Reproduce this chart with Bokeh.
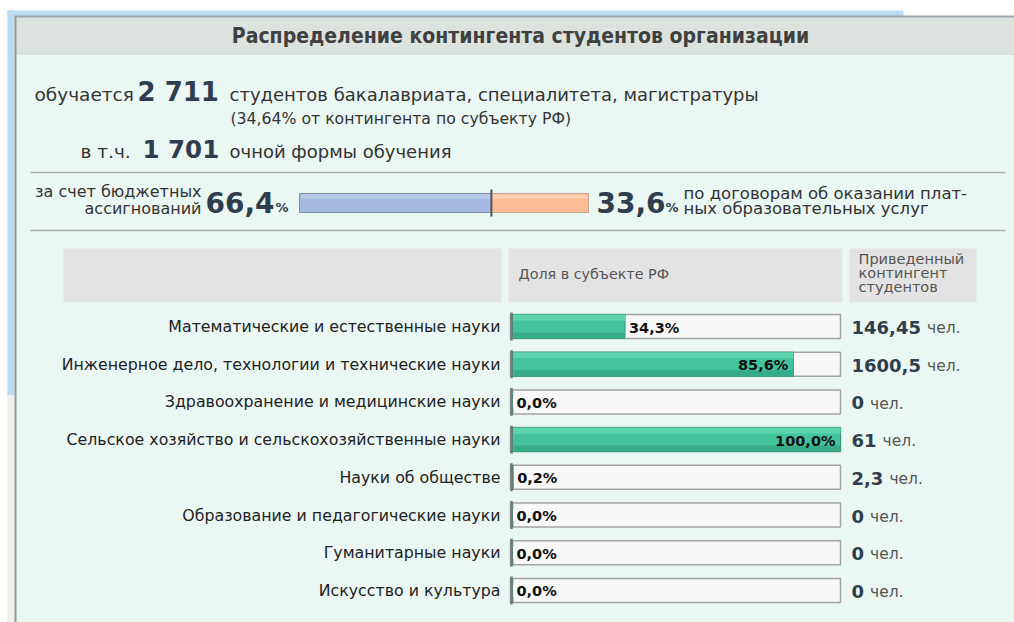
from bokeh.plotting import figure
from bokeh.models import Range1d, ColumnDataSource
from bokeh.embed import file_html
from bokeh.resources import INLINE
from bokeh.core.properties import value

# ---------------- data ----------------
title = "Распределение контингента студентов организации"
total_students = "2 711"
fulltime_students = "1 701"
region_share_note = "(34,64% от контингента по субъекту РФ)"
budget_share = 66.4
paid_share = 33.6

categories = [
    "Математические и естественные науки",
    "Инженерное дело, технологии и технические науки",
    "Здравоохранение и медицинские науки",
    "Сельское хозяйство и сельскохозяйственные науки",
    "Науки об обществе",
    "Образование и педагогические науки",
    "Гуманитарные науки",
    "Искусство и культура",
]
shares = [34.3, 85.6, 0.0, 100.0, 0.2, 0.0, 0.0, 0.0]
contingent = [146.45, 1600.5, 0, 61, 2.3, 0, 0, 0]

header_share = "Доля в субъекте РФ"
header_contingent = ["Приведенный", "контингент", "студентов"]

# ---------------- layout / style ----------------
W, H = 1014, 622
FONT = "DejaVu Sans"
TITLE_FONT = "DejaVu Sans Condensed"
DARK = "#2f3d4c"
TXT = "#333333"
GREY_TXT = "#555555"
XH = 0.2725  # half x-height of the font, in em

p = figure(width=W, height=H, x_range=Range1d(0, W), y_range=Range1d(H, 0),
           output_backend="svg", toolbar_location=None, min_border=0,
           x_axis_type=None, y_axis_type=None)
p.xgrid.visible = False
p.ygrid.visible = False
p.outline_line_color = None
p.background_fill_color = "white"
p.border_fill_color = "white"

# page decoration
p.quad(left=7, right=903, top=10, bottom=16, fill_color="#bcdcef", line_color=None)
p.quad(left=7, right=14, top=10, bottom=395, fill_color="#bcdcef", line_color=None)
p.quad(left=7, right=14, top=395, bottom=H, fill_color="#f2efe6", line_color=None)
# panel
p.quad(left=14, right=W, top=16, bottom=H, fill_color="#ebf7f3", line_color=None)
p.quad(left=14, right=W, top=16, bottom=53, fill_color="#dce3de", line_color=None)
p.segment(x0=14, y0=16, x1=W, y1=16, line_color="#9aa6ac", line_width=2)
p.segment(x0=14, y0=53.5, x1=W, y1=53.5, line_color="#c9d2cd", line_width=1)
p.segment(x0=15, y0=16, x1=15, y1=H, line_color="#8d9ba2", line_width=2)


def txt(x, base, s, size, color=TXT, bold=False, align="left", font=FONT):
    """place text so that its baseline sits at `base`"""
    p.text(x=[x], y=[base - XH * size], text=[s], text_font=value(font),
           text_font_style="bold" if bold else "normal", text_font_size=f"{size}px",
           text_color=color, text_align=align, text_baseline="middle")


txt(520, 41, title, 21, "#404040", bold=True, align="center", font=TITLE_FONT)

# summary lines
txt(34, 99, "обучается", 18.5, TXT)
txt(137, 99, total_students, 26, DARK, bold=True)
txt(229, 99, "студентов бакалавриата, специалитета, магистратуры", 18, TXT)
txt(230, 122, region_share_note, 15.7, TXT)
txt(80, 156, "в т.ч.", 18.5, TXT)
txt(142, 156, fulltime_students, 24.5, DARK, bold=True)
txt(229, 156, "очной формы обучения", 18, TXT)

p.segment(x0=30, y0=172, x1=1005, y1=172, line_color="#a9b1ad", line_width=1.5)
p.segment(x0=30, y0=230, x1=1005, y1=230, line_color="#a9b1ad", line_width=1.5)

# budget / paid split
fmt1 = lambda v: f"{v:.1f}".replace(".", ",")
txt(201, 195, "за счет бюджетных", 16, TXT, align="right")
txt(201, 212, "ассигнований", 16, TXT, align="right")
txt(205, 210, fmt1(budget_share), 28, DARK, bold=True)
txt(275, 211, "%", 13, DARK, bold=True)

bx0, bx1 = 299, 588
split = bx0 + (bx1 - bx0) * budget_share / (budget_share + paid_share)
p.quad(left=[bx0], right=[split], top=[193], bottom=[212], fill_color="#a5bae0", line_color="#7d8fa8")
p.quad(left=[split], right=[bx1], top=[193], bottom=[212], fill_color="#ffbd97", line_color="#c9a58f")
p.quad(left=[bx0 + 1], right=[split], top=[194], bottom=[198], fill_color="#bccbe9", line_color=None)
p.quad(left=[split], right=[bx1 - 1], top=[194], bottom=[198], fill_color="#ffcfb2", line_color=None)
p.segment(x0=[split], y0=[189], x1=[split], y1=[216], line_color="#4b5560", line_width=2)

txt(596, 210, fmt1(paid_share), 28, DARK, bold=True)
txt(665, 211, "%", 13, DARK, bold=True)
txt(683, 197, "по договорам об оказании плат-", 16.5, TXT)
txt(683, 212, "ных образовательных услуг", 16.5, TXT)

# table header
p.quad(left=[63, 508, 849], right=[501, 842, 976], top=[248] * 3, bottom=[302] * 3,
       fill_color="#e3e3e3", line_color=None)
p.text(x=[518], y=[273], text=[header_share], text_font=value(FONT), text_font_size="14.3px",
       text_color=GREY_TXT, text_align="left", text_baseline="middle")
p.text(x=[858] * 3, y=[258, 272, 286], text=header_contingent, text_font=value(FONT),
       text_font_size="14.5px", text_color=GREY_TXT, text_align="left", text_baseline="middle")

# rows
row_y0, row_step = 326, 37.7
ys = [row_y0 + i * row_step for i in range(len(categories))]
X0, X1 = 510, 840
FX0 = 512
fill_end = [FX0 + (X1 - FX0) * s / 100 for s in shares]
share_lbl = [fmt1(s) + "%" for s in shares]
lbl_x = [e - 5 if s >= 50 else e + 4 for e, s in zip(fill_end, shares)]
lbl_align = ["right" if s >= 50 else "left" for s in shares]

src = ColumnDataSource(dict(
    y=ys, ly=[y + 1 for y in ys], top=[y - 12 for y in ys], bottom=[y + 12 for y in ys],
    hl_b=[y - 6 for y in ys], lo_t=[y + 6 for y in ys],
    etop=[y - 14 for y in ys], ebot=[y + 14 for y in ys],
    cat=categories, fend=fill_end, lbl=share_lbl, lx=lbl_x, la=lbl_align,
))

p.text(x=500, y="y", text="cat", source=src, text_font=value(FONT), text_font_size="15.8px",
       text_color="#222222", text_align="right", text_baseline="middle")
p.quad(left=X0, right=X1, top="top", bottom="bottom", source=src,
       fill_color="#f8f8f8", line_color="#a3a3a3", line_width=1.5)
p.quad(left=FX0, right="fend", top="top", bottom="bottom", source=src,
       fill_color="#43c49c", line_color="#2c9474", line_width=1)
p.quad(left=FX0 + 1, right="fend", top="top", bottom="hl_b", source=src,
       fill_color="#5cd5ae", line_color=None)
p.quad(left=FX0 + 1, right="fend", top="lo_t", bottom="bottom", source=src,
       fill_color="#36ad88", line_color=None)
p.segment(x0=X0 + 1, y0="etop", x1=X0 + 1, y1="ebot", source=src,
          line_color="#6f7a78", line_width=2.5)
p.text(x="lx", y="ly", text="lbl", source=src, text_font=value(FONT), text_font_style="bold",
       text_font_size="14.5px", text_color="#111111", text_align="la", text_baseline="middle")

# contingent values
num_txt = [f"{v:g}".replace(".", ",") for v in contingent]
NUM_SIZE = 18
UNIT_SIZE = 15.5
char_w = {",": 0.38}
num_w = [sum(char_w.get(c, 0.696) for c in s) * NUM_SIZE for s in num_txt]
base = [y + 6 for y in ys]
vsrc = ColumnDataSource(dict(
    ny=[b - XH * NUM_SIZE for b in base], uy=[b - XH * UNIT_SIZE for b in base],
    num=num_txt, ux=[851 + w + 6 for w in num_w], unit=["чел."] * len(num_txt),
))
p.text(x=851, y="ny", text="num", source=vsrc, text_font=value(FONT), text_font_style="bold",
       text_font_size=f"{NUM_SIZE}px", text_color=DARK, text_align="left", text_baseline="middle")
p.text(x="ux", y="uy", text="unit", source=vsrc, text_font=value(FONT),
       text_font_size=f"{UNIT_SIZE}px", text_color=GREY_TXT, text_align="left", text_baseline="middle")

open("out.html", "w").write(file_html(p, INLINE))
